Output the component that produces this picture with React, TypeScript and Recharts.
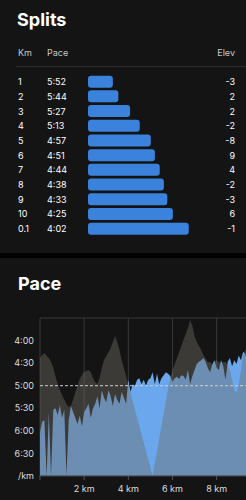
import { BarChart, Bar, XAxis, YAxis, ComposedChart, Area, CartesianGrid, ReferenceLine } from 'recharts';

// splits table
const SPLIT_KM = ['1', '2', '3', '4', '5', '6', '7', '8', '9', '10', '0.1'];
const SPLIT_PACE = [352, 344, 327, 313, 297, 291, 284, 278, 273, 265, 242];
const SPLIT_ELEV = [-3, 2, 2, -2, -8, 9, 4, -2, -3, 6, -1];
const SPLIT_BAR_FLOOR = 388;

// pace profile, one sample every 100 m
const DIST_KM = [
  0, 0.1, 0.2, 0.3, 0.4, 0.5, 0.6, 0.7, 0.8, 0.9,
  1, 1.1, 1.2, 1.3, 1.4, 1.5, 1.6, 1.7, 1.8, 1.9,
  2, 2.1, 2.2, 2.3, 2.4, 2.5, 2.6, 2.7, 2.8, 2.9,
  3, 3.1, 3.2, 3.3, 3.4, 3.5, 3.6, 3.7, 3.8, 3.9,
  4, 4.1, 4.2, 4.3, 4.4, 4.5, 4.6, 4.7, 4.8, 4.9,
  5, 5.1, 5.2, 5.3, 5.4, 5.5, 5.6, 5.7, 5.8, 5.9,
  6, 6.1, 6.2, 6.3, 6.4, 6.5, 6.6, 6.7, 6.8, 6.9,
  7, 7.1, 7.2, 7.3, 7.4, 7.5, 7.6, 7.7, 7.8, 7.9,
  8, 8.1, 8.2, 8.3, 8.4, 8.5, 8.6, 8.7, 8.8, 8.9,
  9, 9.1, 9.2, 9.3, 9.4, 9.5, 9.6, 9.7, 9.8, 9.9,
  10, 10.1,
];
const PACE_SEC = [
  362, 348, 346, 420, 335, 420, 332, 330, 339, 326,
  343, 332, 420, 346, 327, 335, 343, 351, 340, 354,
  335, 330, 324, 343, 330, 324, 314, 330, 306, 316,
  322, 306, 314, 327, 311, 319, 324, 308, 316, 324,
  292, 308, 298, 300, 292, 290, 298, 292, 300, 292,
  290, 282, 298, 284, 298, 290, 286, 282, 284, 287,
  295, 290, 288, 291, 286, 287, 292, 279, 298, 287,
  279, 271, 268, 266, 263, 268, 276, 282, 272, 266,
  276, 279, 266, 274, 292, 268, 263, 274, 266, 271,
  260, 266, 255, 258, 268, 262, 270, 258, 266, 264,
  268, 262,
];
const ELEV_M = [
  37.3, 38.3, 38.9, 38.0, 37.3, 36.1, 34.2, 31.6, 29.1, 27.2,
  25.6, 24.1, 22.8, 21.8, 22.2, 24.1, 26.6, 28.5, 30.7, 32.0,
  32.9, 33.2, 33.5, 32.9, 31.0, 29.7, 29.1, 31.0, 34.2, 36.7,
  38.0, 39.2, 40.5, 42.4, 44.3, 42.4, 39.9, 36.7, 34.2, 31.6,
  28.8, null, null, null, null, null, null, null, null, null,
  null, 0, null, null, null, null, null, null, 27.5, 31.0,
  33.5, 35.4, 37.3, 39.2, 41.1, 43.0, 44.9, 46.8, 49.4, 47.5,
  44.3, 42.4, 41.1, 39.9, 38.3, 37.3, 36.1, 36.1, 35.4, 36.1,
  36.7, 36.1, 35.4, 36.1, 36.1, 35.1, 33.5, 30.4, 27.2, 26.3,
  28.8, 33.5, 38.3, 39.9, 39.2, 38.6, 39.2, 38.0, 38.6, 39.2,
  38.3, 38.0,
];
const AVG_PACE = 300;
const PACE_TICKS = [210, 240, 270, 300, 330, 360, 390, 420];
const KM_TICKS = [0, 2, 4, 6, 8];

const FONT = 'Inter, "Noto Sans", sans-serif';

const fmtPace = (s: number) => `${Math.floor(s / 60)}:${String(s % 60).padStart(2, '0')}`;

const splitRows = SPLIT_KM.map((km, i) => ({ km, pace: SPLIT_PACE[i], elev: SPLIT_ELEV[i] }));
const paceRows = DIST_KM.map((km, i) => ({ km, pace: PACE_SEC[i], elev: ELEV_M[i] }));

const SplitTick = (props: any) => {
  const { y, payload } = props;
  const row = splitRows.find((r) => r.km === payload.value);
  if (!row) return null;
  return (
    <g fill="#fff" fontSize={9} fontFamily={FONT}>
      <text x={18} y={y} dy="0.35em">{row.km}</text>
      <text x={47} y={y} dy="0.35em">{fmtPace(row.pace)}</text>
      <text x={235} y={y} dy="0.35em" textAnchor="end">{row.elev}</text>
    </g>
  );
};

const PaceTick = (props: any) => {
  const { y, payload } = props;
  const v = payload.value;
  if (v === 210) return null;
  return (
    <text x={34} y={y} dy="0.35em" textAnchor="end" fill="#ddd" fontSize={9} fontFamily={FONT}>
      {v === 420 ? '/km' : fmtPace(v)}
    </text>
  );
};

export default function App() {
  return (
    <div
      style={{
        position: 'fixed',
        left: 0,
        top: 0,
        width: 246,
        height: 500,
        overflow: 'hidden',
        background: '#000',
        fontFamily: FONT,
      }}
    >
      <div style={{ position: 'absolute', left: 0, top: 0, width: 246, height: 253, background: '#141414' }}>
        <svg width={246} height={253} style={{ position: 'absolute', left: 0, top: 0 }}>
          <text x={17} y={26} fill="#fff" fontSize={18} fontWeight={700} fontFamily={FONT}>Splits</text>
          <g fill="#c8c8c8" fontSize={9} fontFamily={FONT}>
            <text x={18} y={56}>Km</text>
            <text x={47} y={56}>Pace</text>
            <text x={235} y={56} textAnchor="end">Elev</text>
          </g>
          <line x1={16} x2={246} y1={66.5} y2={66.5} stroke="#2c2c2c" />
        </svg>
        <div style={{ position: 'absolute', left: 0, top: 0 }}>
          <BarChart
            layout="vertical"
            width={246}
            height={253}
            data={splitRows}
            margin={{ top: 74.65, right: 49, bottom: 16.65, left: 0 }}
          >
            <XAxis type="number" hide domain={[230, SPLIT_BAR_FLOOR]} reversed />
            <YAxis
              type="category"
              dataKey="km"
              width={88}
              axisLine={false}
              tickLine={false}
              interval={0}
              tick={<SplitTick />}
            />
            <Bar
              dataKey={(r: any) => [SPLIT_BAR_FLOOR, r.pace]}
              fill="#3a82dc"
              radius={3}
              barSize={12}
              isAnimationActive={false}
            />
          </BarChart>
        </div>
      </div>

      <div style={{ position: 'absolute', left: 0, top: 258, width: 246, height: 242, background: '#141414' }}>
        <svg width={246} height={60} style={{ position: 'absolute', left: 0, top: 0 }}>
          <text x={18} y={32} fill="#fff" fontSize={18} fontWeight={700} fontFamily={FONT}>Pace</text>
        </svg>
        <div style={{ position: 'absolute', left: 0, top: 0 }}>
          <ComposedChart width={263} height={242} data={paceRows} margin={{ top: 60, right: 0, bottom: 0, left: 0 }}>
            <CartesianGrid stroke="#383838" />
            <XAxis
              type="number"
              dataKey="km"
              domain={[0, 10.1]}
              ticks={KM_TICKS}
              interval={0}
              tickFormatter={(v) => (v === 0 ? '' : `${v} km`)}
              height={24}
              tickSize={4}
              tickMargin={6}
              axisLine={{ stroke: '#383838' }}
              tickLine={{ stroke: '#555' }}
              tick={{ fill: '#ddd', fontSize: 9, fontFamily: FONT }}
            />
            <YAxis
              yAxisId="pace"
              type="number"
              domain={[210, 420]}
              reversed
              ticks={PACE_TICKS}
              interval={0}
              width={40}
              axisLine={false}
              tickLine={false}
              tick={<PaceTick />}
            />
            <YAxis yAxisId="elev" hide domain={[0, 50]} />
            <Area
              yAxisId="pace"
              type="linear"
              dataKey="pace"
              baseValue="dataMax"
              fill="#6aa7ec"
              fillOpacity={1}
              stroke="none"
              isAnimationActive={false}
            />
            <Area
              yAxisId="elev"
              type="linear"
              dataKey="elev"
              connectNulls
              fill="#6f6c65"
              fillOpacity={0.43}
              stroke="none"
              isAnimationActive={false}
            />
            <ReferenceLine yAxisId="pace" y={AVG_PACE} stroke="#cfcfcf" strokeDasharray="3 2" />
          </ComposedChart>
        </div>
      </div>
    </div>
  );
}
